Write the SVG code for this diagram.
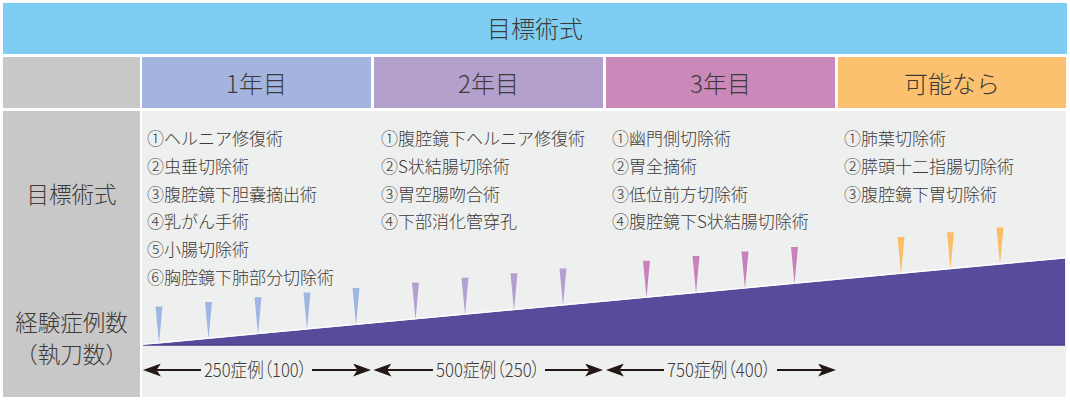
<svg xmlns="http://www.w3.org/2000/svg" width="1070" height="400" viewBox="0 0 1070 400">
<style>
text{font-family:"Noto Sans CJK JP","Noto Sans",sans-serif;fill:#3e3a39;font-weight:300}
.hd{font-size:24px;text-anchor:middle}
.lb{font-size:22.5px;text-anchor:middle}
.it{font-size:17px}
.ar{font-size:19px;text-anchor:middle;font-feature-settings:"palt"}
.tb{fill:#9fb5e3}.tp{fill:#b39fd2}.tm{fill:#c980bb}.to{fill:#fbbd66}
.arr{stroke:#231815;stroke-width:2.2;fill:none}
</style>
<defs>
<marker id="ah" viewBox="0 0 18 13" refX="4.5" refY="6.5" markerWidth="18" markerHeight="13" markerUnits="userSpaceOnUse" orient="auto-start-reverse">
<path d="M0,0 L18,6.5 L0,13 L4.5,6.5 Z" fill="#231815"/>
</marker>
</defs>
<rect width="1070" height="400" fill="#ffffff"/>
<g id="title">
<rect x="3" y="3" width="1064" height="51" fill="#7ecef4"/>
<text class="hd" x="535" y="38">目標術式</text>
</g>
<g id="corner"><rect x="3" y="57" width="137" height="51" fill="#c8c8c8"/></g>
<g id="year1"><rect x="142" y="57" width="229" height="51" fill="#a3b5de"/><text class="hd" x="256.5" y="93">1年目</text></g>
<g id="year2"><rect x="374" y="57" width="229" height="51" fill="#b4a0cc"/><text class="hd" x="488.5" y="93">2年目</text></g>
<g id="year3"><rect x="606" y="57" width="229" height="51" fill="#ca89b9"/><text class="hd" x="720.5" y="93">3年目</text></g>
<g id="possible"><rect x="838" y="57" width="228" height="51" fill="#fbc16f"/><text class="hd" x="952" y="93">可能なら</text></g>
<g id="leftcol">
<rect x="3" y="111" width="137" height="286" fill="#c8c8c8"/>
<text class="lb" x="71.5" y="203">目標術式</text>
<text class="lb" x="71.5" y="331">経験症例数</text>
<text class="lb" x="71.5" y="363">（執刀数）</text>
</g>
<g id="body"><rect x="142" y="111" width="924" height="286" fill="#eef0ef"/></g>
<g id="list1">
<text class="it" x="147" y="145">①ヘルニア修復術</text>
<text class="it" x="147" y="172.8">②虫垂切除術</text>
<text class="it" x="147" y="200.6">③腹腔鏡下胆嚢摘出術</text>
<text class="it" x="147" y="228.4">④乳がん手術</text>
<text class="it" x="147" y="256.2">⑤小腸切除術</text>
<text class="it" x="147" y="284">⑥胸腔鏡下肺部分切除術</text>
</g>
<g id="list2">
<text class="it" x="381" y="145">①腹腔鏡下ヘルニア修復術</text>
<text class="it" x="381" y="172.8">②S状結腸切除術</text>
<text class="it" x="381" y="200.6">③胃空腸吻合術</text>
<text class="it" x="381" y="228.4">④下部消化管穿孔</text>
</g>
<g id="list3">
<text class="it" x="612" y="145">①幽門側切除術</text>
<text class="it" x="612" y="172.8">②胃全摘術</text>
<text class="it" x="612" y="200.6">③低位前方切除術</text>
<text class="it" x="612" y="228.4">④腹腔鏡下S状結腸切除術</text>
</g>
<g id="list4">
<text class="it" x="844" y="145">①肺葉切除術</text>
<text class="it" x="844" y="172.8">②膵頭十二指腸切除術</text>
<text class="it" x="844" y="200.6">③腹腔鏡下胃切除術</text>
</g>
<g id="chart">
<polygon points="143,345 1065,258.5 1065,345" fill="#574b9b"/>
<line x1="143" y1="345" x2="1065" y2="345" stroke="#4a3e8c" stroke-width="1.5"/>
<line x1="143" y1="344.3" x2="1065" y2="257.8" stroke="#ffffff" stroke-width="1.2"/>
<path class="tb" d="M155.5,306.5h7L159,343.5Z M205,301.9h7L208.5,338.9Z M254.5,297.2h7L258,334.2Z M303.5,292.6h7L307,329.6Z M352.5,288h7L356,325Z"/>
<path class="tp" d="M412,282.4h7L415.5,319.4Z M461.5,277.8h7L465,314.8Z M510.5,273.2h7L514,310.2Z M559.5,268.6h7L563,305.6Z"/>
<path class="tm" d="M643,260.8h7L646.5,297.8Z M692.5,256.1h7L696,293.1Z M741.5,251.5h7L745,288.5Z M791,246.9h7L794.5,283.9Z"/>
<path class="to" d="M897.5,236.9h7L901,273.9Z M947,232.3h7L950.5,269.3Z M996.5,227.6h7L1000,264.6Z"/>
</g>
<g id="connectors">
<line class="arr" x1="156.5" y1="370" x2="201" y2="370" marker-start="url(#ah)"/>
<line class="arr" x1="312" y1="370" x2="357.5" y2="370" marker-end="url(#ah)"/>
<line class="arr" x1="387" y1="370" x2="433" y2="370" marker-start="url(#ah)"/>
<line class="arr" x1="545" y1="370" x2="589.5" y2="370" marker-end="url(#ah)"/>
<line class="arr" x1="619.5" y1="370" x2="664" y2="370" marker-start="url(#ah)"/>
<line class="arr" x1="777" y1="370" x2="822.5" y2="370" marker-end="url(#ah)"/>
</g>
<g id="labels">
<text class="ar" x="255.5" y="376.5" textLength="103" lengthAdjust="spacingAndGlyphs">250症例（100）</text>
<text class="ar" x="488" y="376.5" textLength="104" lengthAdjust="spacingAndGlyphs">500症例（250）</text>
<text class="ar" x="719" y="376.5" textLength="104" lengthAdjust="spacingAndGlyphs">750症例（400）</text>
</g>
</svg>
